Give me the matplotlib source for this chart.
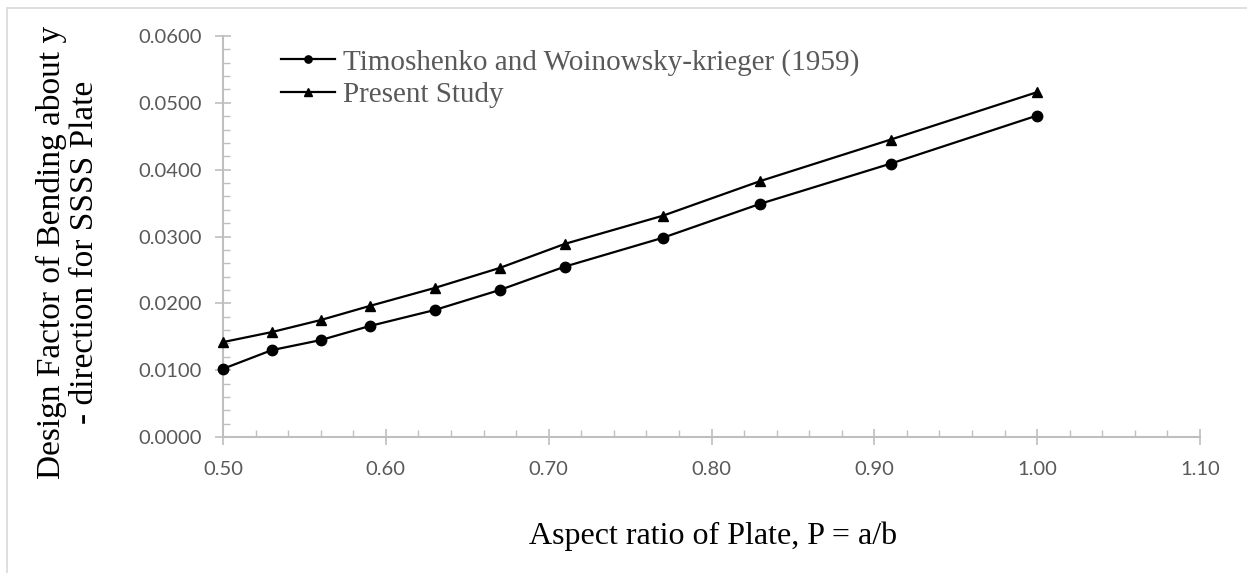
import matplotlib
matplotlib.use("Agg")
import matplotlib.pyplot as plt
from matplotlib.ticker import MultipleLocator, FormatStrFormatter
from matplotlib.patches import Rectangle

aspect_ratio = [0.50, 0.53, 0.56, 0.59, 0.63, 0.67, 0.71, 0.77, 0.83, 0.91, 1.00]
timoshenko = [0.0102, 0.0130, 0.0145, 0.0166, 0.0190, 0.0220, 0.0255, 0.0298, 0.0349, 0.0409, 0.0481]
present = [0.0142, 0.0157, 0.0175, 0.0196, 0.0223, 0.0253, 0.0289, 0.0331, 0.0383, 0.0445, 0.0516]

W, H = 1247, 573
fig = plt.figure(figsize=(W / 100, H / 100), dpi=100)
left, right, top, bottom = 223, 1200, 36, 437
ax = fig.add_axes([left / W, 1 - bottom / H, (right - left) / W, (bottom - top) / H])

def fx(px):
    return px / W

def fy(py):
    return 1 - py / H

# outer chart border (left and top visible)
fig.patches.append(Rectangle((fx(7), -0.05), 1.1, fy(8) + 0.05, transform=fig.transFigure,
                             fill=False, edgecolor="#D9D9D9", linewidth=1.2))

ax.plot(aspect_ratio, timoshenko, color="black", lw=1.6, marker="o", ms=7.5,
        label="Timoshenko and Woinowsky-krieger (1959)", clip_on=False, zorder=3)
ax.plot(aspect_ratio, present, color="black", lw=1.6, marker="^", ms=7.5,
        label="Present Study", clip_on=False, zorder=3)

ax.set_xlim(0.5, 1.1)
ax.set_ylim(0, 0.06)
ax.xaxis.set_major_locator(MultipleLocator(0.1))
ax.xaxis.set_minor_locator(MultipleLocator(0.02))
ax.yaxis.set_major_locator(MultipleLocator(0.01))
ax.yaxis.set_minor_locator(MultipleLocator(0.002))
ax.xaxis.set_major_formatter(FormatStrFormatter("%.2f"))
ax.yaxis.set_major_formatter(FormatStrFormatter("%.4f"))

for s in ["top", "right"]:
    ax.spines[s].set_visible(False)
for s in ["left", "bottom"]:
    ax.spines[s].set_color("#BFBFBF")
    ax.spines[s].set_linewidth(1.5)

ax.tick_params(which="major", direction="inout", length=11, width=1.2, color="#BFBFBF",
               labelcolor="#595959", labelsize=14.5)
ax.tick_params(which="minor", direction="in", length=5, width=1.0, color="#BFBFBF")
ax.tick_params(axis="x", which="major", pad=12)
ax.tick_params(axis="y", which="major", pad=10)
for lab in ax.get_xticklabels() + ax.get_yticklabels():
    lab.set_fontfamily("Lato")

fig.text(fx(713), fy(536), "Aspect ratio of Plate, P = a/b", family="Liberation Serif",
         fontsize=23, color="black", ha="center", va="center")
fig.text(fx(68), fy(252), "Design Factor of Bending about y\n- direction for SSSS Plate",
         family="Liberation Serif", fontsize=24, color="black", ha="center", va="center",
         rotation=90, multialignment="center", linespacing=1.08)

leg = fig.legend(loc="upper left", bbox_to_anchor=(fx(281), fy(49)),
                 frameon=False, prop={"family": "Liberation Serif", "size": 21},
                 handlelength=1.85, handletextpad=0.28, labelspacing=0.2,
                 borderaxespad=0, borderpad=0, markerscale=0.7)
for t in leg.get_texts():
    t.set_color("#595959")

fig.savefig("out.png", dpi=100)
